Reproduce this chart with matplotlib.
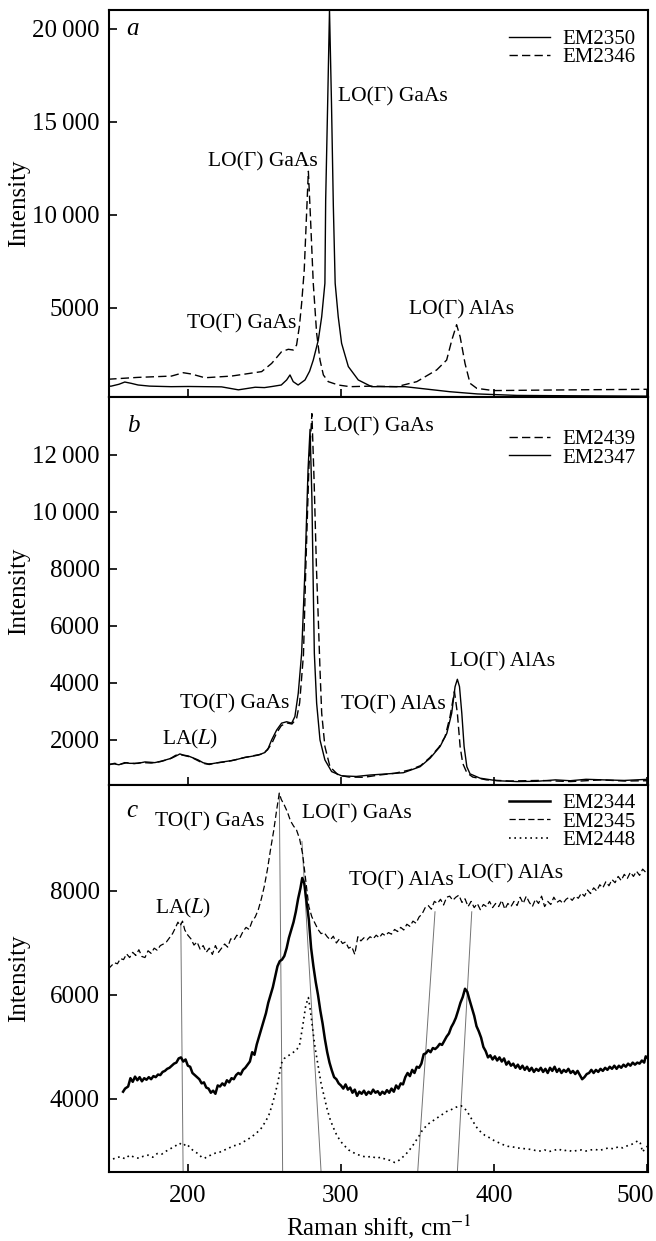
import numpy as np
import matplotlib
matplotlib.use("Agg")
import matplotlib.pyplot as plt

plt.rcParams['font.family'] = ['Liberation Serif', 'DejaVu Serif']
plt.rcParams['mathtext.fontset'] = 'stix'

# ---- panel a ----
a_x_2350 = [148, 150, 155, 158.8, 163, 167.5, 175, 189, 200, 211, 222, 233, 244, 250, 255, 261,
            264.5, 266.7, 268.8, 272, 276.5, 279.5, 281.9, 285.2, 287.4, 289.5, 290, 291.3,
            292.5, 293.8, 295, 296.2, 298.2, 300.4, 304.8, 311.3, 320, 341.8, 371, 389, 415, 450, 500.5]
a_y_2350 = [790, 800, 900, 1020, 950, 860, 800, 770, 780, 770, 760, 600, 740, 720, 780, 860,
            1130, 1400, 1040, 860, 1130, 1600, 2200, 3280, 4530, 6330, 10800, 16000,
            21000, 16000, 10500, 6330, 4530, 3100, 1850, 1130, 770, 770, 500, 380, 300, 280, 260]

a_x_2346 = [148, 167.5, 189.3, 197, 202.4, 211.1, 228.5, 248.2, 254.7, 261.2, 265.6, 268.8, 271,
            272.8, 274.3, 276, 277.5, 278.7, 280, 281.9, 284.1, 286.3, 288.5, 291.7, 298.2, 305.9,
            320, 336.4, 349.5, 362.5, 369, 372.4, 375.5, 377.8, 381, 384.3, 388.7, 399.5, 436.6, 500.5]
a_y_2346 = [1170, 1270, 1340, 1520, 1450, 1250, 1340, 1580, 2020, 2650, 2780, 2740, 3010,
            4000, 5250, 7040, 10000, 12350, 10000, 6330, 3640, 2200, 1400, 1040, 860, 770,
            800, 770, 1040, 1670, 2200, 3280, 4100, 3460, 2020, 950, 680, 560, 590, 630]

# ---- panel b ----
b_x_2439 = [148, 152, 156, 160, 165, 170, 176, 182, 188, 192, 195, 198, 202, 206, 210, 214, 218,
            224, 230, 236, 242, 248, 252, 255, 258, 261, 264.5, 268, 271, 273, 275.5, 277, 279,
            281, 282.5, 284, 285.2, 286.3, 287.4, 289.5, 292.8, 298.2, 305, 315, 325, 335, 345,
            352, 358, 364, 368, 371.2, 374.1, 376, 377.8, 379.5, 382.2, 386, 395, 410, 430, 450,
            470, 485, 500.5]
b_y_2439 = [1120, 1180, 1150, 1200, 1170, 1210, 1190, 1240, 1330, 1460, 1490, 1450, 1400, 1290,
            1180, 1140, 1190, 1230, 1290, 1370, 1440, 1500, 1650, 1900, 2250, 2500, 2600, 2560,
            2750, 3300, 5000, 8000, 11500, 13450, 11000, 8000, 6210, 4460, 2940, 1770, 1060, 770,
            700, 690, 770, 830, 950, 1100, 1380, 1750, 2120, 2820, 3700, 2940, 1770, 1180, 850,
            700, 600, 560, 580, 540, 600, 560, 570]

b_x_2347 = [148, 152, 155, 158.8, 162, 167.5, 172, 178.4, 183, 189.3, 192, 194.8, 197, 200.2, 203,
            206.7, 210, 213.3, 216, 219.8, 224, 228.5, 233, 237.3, 241, 246, 250.3, 252.5, 254.7,
            258, 261.2, 264.5, 267.8, 269.9, 272.1, 274.3, 276.5, 278.5, 279.8, 281, 282, 282.6,
            284.1, 286.3, 289.5, 293.9, 300.5, 310, 319, 329.9, 340.7, 351.6, 358.2, 364.7, 369.1,
            372.3, 374.5, 376, 377.4, 378.9, 380.4, 382.2, 384.3, 390.8, 401.8, 415, 427.9, 440,
            449.7, 460, 471.4, 485, 500.5]
b_y_2347 = [1150, 1160, 1130, 1205, 1180, 1180, 1230, 1205, 1260, 1360, 1430, 1510, 1470, 1440,
            1380, 1300, 1200, 1160, 1170, 1205, 1240, 1275, 1330, 1390, 1420, 1470, 1560, 1710,
            2000, 2350, 2590, 2640, 2590, 2820, 3640, 5040, 8000, 11500, 12900, 10500, 7000, 5040,
            3290, 2000, 1300, 890, 740, 720, 770, 810, 850, 1060, 1360, 1770, 2230, 2940, 3870,
            4130, 3870, 2940, 1770, 1060, 810, 660, 570, 540, 550, 600, 570, 620, 600, 580, 620]

# ---- panel c ----
c_x_2345 = [148, 150, 152, 154, 156, 158, 160, 162, 164, 166, 168, 170, 172, 174, 176, 178, 180,
            182, 184, 186, 188, 190, 192, 193.5, 195, 196.5, 198, 200, 202, 204, 206, 208, 210,
            212, 214, 216, 218, 220, 222, 224, 226, 228, 230, 232, 234, 236, 238, 240, 242, 244,
            246, 248, 250, 252, 254, 256, 258, 259.7, 261, 263, 265, 267, 269, 271, 273, 275, 277,
            279, 281, 283, 285, 287, 289, 291, 293, 295, 297, 299, 301, 303, 305, 307, 309, 311,
            313, 315, 317, 319, 321, 323, 325, 327, 329, 331, 333, 335, 337, 339, 341, 343, 345,
            347, 349, 351, 353, 355, 357, 359, 361, 363, 365, 367, 369, 371, 373, 375, 377, 379,
            381, 383, 385, 387, 389, 391, 393, 395, 397, 399, 401, 403, 405, 407, 409, 411, 413,
            415, 417, 419, 421, 423, 425, 427, 429, 431, 433, 435, 437, 439, 441, 443, 445, 447,
            449, 451, 453, 455, 457, 459, 461, 463, 465, 467, 469, 471, 473, 475, 477, 479, 481,
            483, 485, 487, 489, 491, 493, 495, 497, 499, 500.5]
c_y_2345 = [6500, 6560, 6620, 6600, 6700, 6680, 6790, 6720, 6820, 6760, 6870, 6740, 6720, 6850,
            6800, 6900, 6860, 6950, 6980, 7020, 7100, 7180, 7300, 7400, 7330, 7420, 7250, 7150,
            7080, 6960, 7020, 6880, 6950, 6820, 6900, 6780, 6950, 6820, 6900, 6980, 6920, 7080,
            7050, 7150, 7100, 7220, 7300, 7260, 7420, 7500, 7640, 7850, 8100, 8420, 8800, 9150,
            9560, 9880, 9760, 9650, 9520, 9350, 9250, 9170, 9000, 8700, 8200, 7700, 7500, 7380,
            7260, 7180, 7200, 7120, 7060, 7130, 7000, 7080, 6990, 7020, 6900, 6930, 6780, 7120,
            7040, 7100, 7060, 7120, 7080, 7150, 7100, 7180, 7140, 7200, 7170, 7260, 7220, 7300,
            7250, 7360, 7320, 7420, 7380, 7500, 7560, 7680, 7720, 7650, 7800, 7760, 7840, 7730,
            7880, 7900, 7820, 7880, 7920, 7780, 7850, 7700, 7800, 7680, 7760, 7640, 7740, 7700,
            7800, 7680, 7760, 7700, 7820, 7650, 7760, 7700, 7800, 7720, 7880, 7760, 7900, 7780,
            7700, 7840, 7760, 7900, 7700, 7800, 7740, 7880, 7780, 7820, 7760, 7840, 7880, 7820,
            7900, 7860, 7960, 7900, 8020, 7950, 8060, 8000, 8120, 8060, 8180, 8100, 8220, 8160,
            8280, 8200, 8320, 8240, 8360, 8280, 8380, 8300, 8420, 8360, 8400]

c_x_2344 = [157.7, 159, 161, 162.5, 164, 165.5, 167, 168.5, 170, 171.5, 173, 174.5, 176, 177.5,
            179, 180.5, 182, 183.5, 185, 186.5, 188, 189.5, 191, 192.5, 194, 195.5, 197, 198.5,
            200, 201.5, 203, 204.5, 206, 207.5, 209, 210.5, 212, 213.5, 215, 216.5, 218, 219.5,
            221, 222.5, 224, 225.5, 227, 228.5, 230, 231.5, 233, 234.5, 236, 237.5, 239, 240.5,
            242, 243.5, 245, 246.5, 248, 249.5, 251, 252.5, 254, 255.5, 257, 258.5, 260, 261.5,
            263, 264.5, 266, 267.5, 269, 270.5, 272, 273.5, 274.7, 276, 277.5, 279, 280.5, 282,
            283.5, 285, 286.5, 288, 289.5, 291, 292.5, 294, 295.5, 297, 298.5, 300, 301.5, 303,
            304.5, 306, 307.5, 309, 310.5, 312, 313.5, 315, 316.5, 318, 319.5, 321, 322.5, 324,
            325.5, 327, 328.5, 330, 331.5, 333, 334.5, 336, 337.5, 339, 340.5, 342, 343.5, 345,
            346.5, 348, 349.5, 351, 352.5, 354, 355.5, 357, 358.5, 360, 361.5, 363, 364.5, 366,
            367.5, 369, 370.5, 372, 373.5, 375, 376.5, 378, 379.5, 381, 382.5, 384, 385.5, 387,
            388.5, 390, 391.5, 393, 394.5, 396, 397.5, 399, 400.5, 402, 403.5, 405, 406.5, 408,
            409.5, 411, 412.5, 414, 415.5, 417, 418.5, 420, 421.5, 423, 424.5, 426, 427.5, 429,
            430.5, 432, 433.5, 435, 436.5, 438, 439.5, 441, 442.5, 444, 445.5, 447, 448.5, 450,
            451.5, 453, 454.5, 456, 457.5, 459, 460.5, 462, 463.5, 465, 466.5, 468, 469.5, 471,
            472.5, 474, 475.5, 477, 478.5, 480, 481.5, 483, 484.5, 486, 487.5, 489, 490.5, 492,
            493.5, 495, 496.5, 498, 499, 500.5]
c_y_2344 = [4140, 4200, 4240, 4400, 4330, 4430, 4360, 4420, 4340, 4400, 4370, 4420, 4380, 4440,
            4420, 4470, 4460, 4520, 4540, 4580, 4600, 4640, 4680, 4700, 4780, 4800, 4720, 4760,
            4640, 4620, 4500, 4460, 4420, 4380, 4300, 4320, 4220, 4200, 4120, 4160, 4100, 4260,
            4240, 4300, 4260, 4360, 4320, 4400, 4380, 4460, 4500, 4470, 4560, 4600, 4660, 4720,
            4900, 4850, 5050, 5200, 5350, 5500, 5650, 5850, 6000, 6150, 6350, 6550, 6650, 6680,
            6750, 6900, 7100, 7250, 7400, 7600, 7850, 8050, 8250, 8150, 7800, 7450, 6900, 6550,
            6250, 6000, 5700, 5450, 5150, 4900, 4700, 4550, 4420, 4380, 4300, 4260, 4200, 4280,
            4180, 4220, 4120, 4180, 4060, 4140, 4100, 4160, 4080, 4140, 4100, 4180, 4120, 4150,
            4080, 4140, 4100, 4170, 4120, 4200, 4140, 4260, 4200, 4300, 4280, 4420, 4500, 4440,
            4560, 4500, 4620, 4600, 4680, 4860, 4880, 4940, 4900, 4980, 4960, 5000, 5060, 5040,
            5120, 5200, 5260, 5380, 5460, 5560, 5700, 5850, 5960, 6120, 6060, 5900, 5750, 5600,
            5400, 5300, 5180, 5000, 4920, 4800, 4840, 4760, 4820, 4740, 4800, 4720, 4780, 4660,
            4720, 4640, 4680, 4600, 4660, 4580, 4640, 4560, 4620, 4540, 4600, 4520, 4580, 4540,
            4600, 4520, 4580, 4500, 4600, 4540, 4620, 4520, 4580, 4500, 4560, 4520, 4580, 4500,
            4540, 4480, 4540, 4460, 4380, 4420, 4480, 4500, 4560, 4500, 4560, 4520, 4580, 4540,
            4600, 4560, 4620, 4580, 4640, 4580, 4640, 4600, 4660, 4620, 4680, 4640, 4700, 4660,
            4700, 4680, 4740, 4700, 4820, 4780]

c_x_2448 = [148, 150, 153, 156, 159, 162, 165, 168, 171, 174, 177, 180, 183, 186, 189, 192, 194.5,
            197, 199, 201, 203, 205, 207, 209, 211, 213, 215, 218, 221, 224, 227, 230, 233, 236,
            239, 242, 245, 248, 251, 253, 255, 257, 259, 261, 263, 265, 267, 269, 271, 273, 275,
            277, 278.7, 280, 281.5, 283, 285, 287, 289, 291, 293, 295, 297, 299, 301, 303, 305,
            308, 311, 314, 317, 320, 323, 326, 329, 332, 335, 337, 339, 341, 343, 345, 347, 349,
            351, 353, 355, 357, 359, 361, 363, 365, 367, 369, 371, 373, 375, 377, 378.5, 380, 382,
            384, 386, 388, 390, 392, 394, 396, 398, 400, 403, 406, 409, 412, 415, 418, 421, 424,
            427, 430, 433, 436, 439, 442, 445, 448, 451, 454, 457, 460, 463, 466, 469, 472, 475,
            478, 481, 484, 487, 490, 492, 494, 495.5, 497, 498.5, 500.5]
c_y_2448 = [2800, 2830, 2870, 2890, 2850, 2920, 2880, 2860, 2900, 2920, 2880, 2950, 2940, 3000,
            3050, 3100, 3150, 3100, 3140, 3080, 3020, 2980, 2940, 2880, 2860, 2900, 2920, 2960,
            2980, 3020, 3060, 3100, 3120, 3170, 3220, 3280, 3350, 3440, 3580, 3700, 3880, 4100,
            4350, 4680, 4780, 4820, 4860, 4900, 4940, 5050, 5400, 5800, 5950, 5700, 5350, 5000,
            4650, 4300, 4050, 3800, 3600, 3450, 3320, 3220, 3140, 3080, 3020, 2970, 2930, 2900,
            2880, 2900, 2860, 2880, 2840, 2820, 2780, 2800, 2850, 2900, 2960, 3030, 3110, 3200,
            3290, 3390, 3460, 3520, 3560, 3600, 3640, 3680, 3720, 3760, 3780, 3810, 3840, 3860,
            3870, 3830, 3780, 3680, 3580, 3480, 3400, 3350, 3300, 3270, 3240, 3200, 3160, 3120,
            3090, 3080, 3060, 3050, 3040, 3030, 3010, 3000, 3020, 2990, 3010, 3040, 3000, 3020,
            2990, 3010, 3020, 3000, 3020, 3030, 3010, 3040, 3060, 3040, 3080, 3060, 3100, 3130,
            3160, 3200, 3150, 2980, 3050, 3100]

# guide lines in panel c: (x top, y top, x bottom)
c_guides = [(195.4, 7380, 196.9), (259.7, 9880, 261.9), (274.5, 8950, 287.0),
            (361.4, 7600, 350.1), (385.4, 7600, 376.0)]

xticks = [200, 300, 400, 500]


def fmt(v):
    v = int(v)
    if v >= 10000:
        return "%d\u2009%03d" % (v // 1000, v % 1000)
    return str(v)


fig = plt.figure(figsize=(6.56, 12.41), dpi=100)
L, W = 109 / 656, 539 / 656
ax_a = fig.add_axes([L, 1 - 397 / 1241, W, 387 / 1241])
ax_b = fig.add_axes([L, 1 - 785 / 1241, W, 388 / 1241])
ax_c = fig.add_axes([L, 1 - 1172 / 1241, W, 387 / 1241])

dash = (0, (6, 3))
ax_a.plot(a_x_2350, a_y_2350, color='k', lw=1.0, label='EM2350')
ax_a.plot(a_x_2346, a_y_2346, color='k', lw=1.0, linestyle=dash, label='EM2346')
ax_b.plot(b_x_2439, b_y_2439, color='k', lw=1.0, linestyle=dash, label='EM2439')
ax_b.plot(b_x_2347, b_y_2347, color='k', lw=1.0, label='EM2347')
ax_c.plot(c_x_2344, c_y_2344, color='k', lw=1.8, label='EM2344')
ax_c.plot(c_x_2345, c_y_2345, color='k', lw=0.9, linestyle=(0, (5, 2.5)), label='EM2345')
ax_c.plot(c_x_2448, c_y_2448, color='k', lw=1.2, linestyle=(0, (1, 2.2)), label='EM2448')

ylims = [(215, 21020), (420, 14035), (2596, 10038)]
yticks = [[5000, 10000, 15000, 20000], [2000, 4000, 6000, 8000, 10000, 12000], [4000, 6000, 8000]]
leg_top = [0.982, 0.948, 1.01]
leg_sp = [-0.06, -0.06, -0.06]
for ax, yl, yt, lt, sp in zip([ax_a, ax_b, ax_c], ylims, yticks, leg_top, leg_sp):
    ax.set_xlim(148.5, 500.5)
    ax.set_ylim(*yl)
    ax.set_yticks(yt)
    ax.set_yticklabels([fmt(v) for v in yt])
    ax.set_xticks(xticks)
    ax.tick_params(direction='in', length=6, width=1.2, labelsize=18, pad=6.5)
    for s in ax.spines.values():
        s.set_linewidth(1.5)
    ax.set_ylabel('Intensity', fontsize=18)
    ax.yaxis.set_label_coords(-0.147, 0.5)
    ax.legend(loc='upper right', bbox_to_anchor=(1.0, lt), frameon=False, fontsize=15,
              handlelength=1.95, handletextpad=0.6, labelspacing=sp, borderaxespad=0.3,
              borderpad=0.3)

for ax in (ax_a, ax_b):
    ax.set_xticklabels([])
ax_c.set_xticklabels(['200', '300', '400', ''])
ax_c.tick_params(axis='x', pad=9)
ax_c.annotate('500', xy=(500, 0), xycoords=('data', 'axes fraction'), xytext=(-8.6, -9.5),
              textcoords='offset points', ha='center', va='top', fontsize=18, annotation_clip=False)
ax_c.set_xlabel('Raman shift, cm$^{-1}$', fontsize=18, labelpad=4)

fs = 15.5
ax_a.text(159.5, 20000, 'a', fontsize=18, style='italic', va='center')
ax_a.text(298.3, 16350, 'LO(Γ) GaAs', fontsize=fs, va='center')
ax_a.text(213, 12850, 'LO(Γ) GaAs', fontsize=fs, va='center')
ax_a.text(199.3, 4140, 'TO(Γ) GaAs', fontsize=fs, va='center')
ax_a.text(344.4, 4890, 'LO(Γ) AlAs', fontsize=fs, va='center')

ax_b.text(160.5, 13018, 'b', fontsize=18, style='italic', va='center')
ax_b.text(289.2, 12980, 'LO(Γ) GaAs', fontsize=fs, va='center')
ax_b.text(194.8, 3263, 'TO(Γ) GaAs', fontsize=fs, va='center')
ax_b.text(182.8, 2000, 'LA($L$)', fontsize=fs, va='center')
ax_b.text(300.3, 3228, 'TO(Γ) AlAs', fontsize=fs, va='center')
ax_b.text(371.2, 4748, 'LO(Γ) AlAs', fontsize=fs, va='center')

ax_c.text(160, 9538, 'c', fontsize=18, style='italic', va='center')
ax_c.text(178.4, 9333, 'TO(Γ) GaAs', fontsize=fs, va='center')
ax_c.text(274.5, 9490, 'LO(Γ) GaAs', fontsize=fs, va='center')
ax_c.text(178.4, 7673, 'LA($L$)', fontsize=fs, va='center')
ax_c.text(305.2, 8200, 'TO(Γ) AlAs', fontsize=fs, va='center')
ax_c.text(376.5, 8330, 'LO(Γ) AlAs', fontsize=fs, va='center')

for xt, yt_, xb in c_guides:
    ax_c.plot([xt, xb], [yt_, ylims[2][0]], color='0.45', lw=0.7, zorder=1)

fig.savefig('out.png', dpi=100)
